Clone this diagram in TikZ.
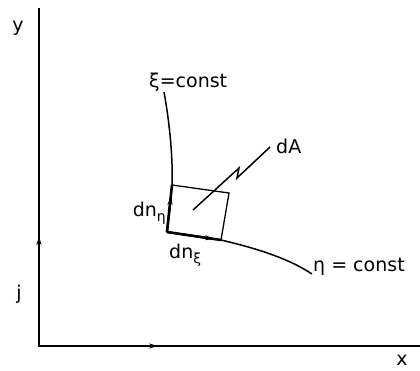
\documentclass[tikz,border=0pt]{standalone}
\usepackage{fontspec}
\setmainfont{DejaVu Sans}
\usepackage{tikz}
\usetikzlibrary{arrows.meta}

\newcommand{\lowidx}[1]{\raisebox{-0.45ex}{\fontsize{14}{15}\selectfont #1}}

\begin{document}
\begin{tikzpicture}[
  x=1pt, y=-1pt,
  lbl/.style={font=\fontsize{19}{21}\selectfont, inner sep=0pt},
  axis/.style={line width=2pt},
  curve/.style={line width=1.5pt},
  cell/.style={line width=1.3pt},
  edge/.style={line width=2.6pt},
  vec/.style={line width=2pt, -{Stealth[length=9pt, width=5pt]}},
  lead/.style={line width=1.5pt}
]
\useasboundingbox (0,0) rectangle (420,370);

% Ejes
\coordinate (O)    at (39,346);
\coordinate (ytop) at (39,8);
\coordinate (xend) at (420,346);
\coordinate (jtip) at (39,236);
\coordinate (itip) at (158,346);
\draw[axis] (ytop) -- (O) -- (xend);
\draw[vec] (O) -- (jtip);
\draw[vec] (O) -- (itip);

\node[lbl] (ylab) at (18,28)   {y};
\node[lbl] (xlab) at (402,360) {x};
\node[lbl] (jlab) at (19,294)  {j};

% Celda dA
\coordinate (A) at (172,185);
\coordinate (B) at (229,193);
\coordinate (C) at (221,240);
\coordinate (D) at (167,232);
\draw[cell] (A) -- (B) -- (C) -- (D) -- cycle;
\draw[edge] (D) -- (A);
\draw[edge] (D) -- (C);
\coordinate (etatip) at (171,196);
\coordinate (xitip)  at (214,239);
\draw[vec] (D) -- (etatip);
\draw[vec] (D) -- (xitip);

% Curvas coordenadas
\coordinate (xistart) at (164,92);
\coordinate (etaend)  at (312,274);
\draw[curve] (xistart) .. controls (170,125) and (173,160) .. (A);
\draw[curve] (C) .. controls (255,248) and (288,258) .. (etaend);

\node[lbl, anchor=west] (xiconst)  at (149,82)  {ξ=const};
\node[lbl, anchor=west] (etaconst) at (313,267) {η = const};

% Elemento de area
\coordinate (leadA) at (193,210);
\coordinate (zig1)  at (239,168);
\coordinate (zig2)  at (237,178);
\coordinate (leadB) at (270,147);
\node[lbl, anchor=west] (dA) at (276,146) {dA};
\draw[lead] (leadA) -- (zig1) -- (zig2) -- (leadB);

\node[lbl, anchor=east] (dneta) at (166,213) {dn\lowidx{η}};
\node[lbl, anchor=west] (dnxi)  at (169,255) {dn\lowidx{ξ}};

\end{tikzpicture}
\end{document}
